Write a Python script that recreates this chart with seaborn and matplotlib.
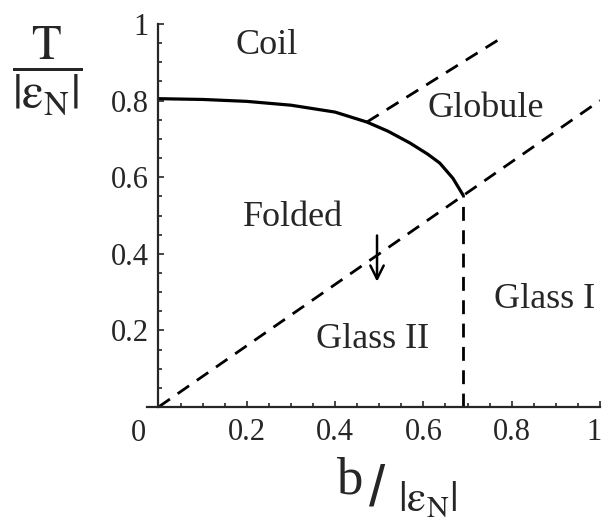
import matplotlib
matplotlib.use('Agg')
import matplotlib.pyplot as plt
import matplotlib.transforms as mtransforms
import seaborn as sns
from matplotlib.ticker import MultipleLocator

# phase boundaries (b/|eps_N|, T/|eps_N|)
solid_b = [0.0, 0.1, 0.2, 0.3, 0.4, 0.472, 0.52, 0.57, 0.61, 0.637, 0.667, 0.69]
solid_T = [0.805, 0.803, 0.798, 0.788, 0.770, 0.744, 0.72, 0.689, 0.66, 0.637, 0.597, 0.553]

glass_b = [0.0, 1.0]
glass_T = [0.0, 0.8]

glob_b = [0.472, 0.769]
glob_T = [0.744, 0.958]

vert_b = [0.69, 0.69]
vert_T = [0.0, 0.553]

arrow_b = 0.495
arrow_T = [0.455, 0.32]

regions = ['Coil', 'Globule', 'Folded', 'Glass II', 'Glass I']
region_b = [0.246, 0.742, 0.305, 0.484, 0.875]
region_T = [0.945, 0.78, 0.496, 0.175, 0.28]

ticks = [0.2, 0.4, 0.6, 0.8, 1.0]
tick_labels = ['0.2', '0.4', '0.6', '0.8', '1']

sns.set_style('ticks')
plt.rcParams['font.family'] = ['Liberation Serif', 'DejaVu Serif']
plt.rcParams['mathtext.fontset'] = 'stix'

fig = plt.figure(figsize=(6.05, 5.22), dpi=100)
ax = fig.add_axes([147 / 605, (522 - 407) / 522, 453 / 605, 383 / 522])

dash = (5.0, 3.4)
sns.lineplot(x=solid_b, y=solid_T, color='black', lw=2.3, estimator=None, sort=False, ax=ax)
sns.lineplot(x=glass_b, y=glass_T, color='black', lw=2.0, estimator=None, sort=False, ax=ax)
sns.lineplot(x=glob_b, y=glob_T, color='black', lw=2.0, estimator=None, sort=False, ax=ax)
sns.lineplot(x=vert_b, y=vert_T, color='black', lw=2.0, estimator=None, sort=False, ax=ax)
for ln in ax.lines[1:]:
  ln.set_dashes(dash)

ax.annotate('', xy=(arrow_b, arrow_T[1]), xytext=(arrow_b, arrow_T[0]),
            arrowprops=dict(arrowstyle='->', color='black', lw=1.8, mutation_scale=24))

for name, b, t in zip(regions, region_b, region_T):
  ax.text(b, t, name, fontsize=26, ha='center', va='center')

ax.set_xlim(-0.026, 1.0)
ax.set_ylim(0, 1.0)
ax.spines['left'].set_position(('data', 0))
ax.spines['right'].set_visible(False)
ax.spines['top'].set_visible(False)
for s in ['left', 'bottom']:
  ax.spines[s].set_linewidth(1.6)

ax.set_xticks(ticks)
ax.set_xticklabels(tick_labels)
ax.set_yticks(ticks)
ax.set_yticklabels(tick_labels)
ax.xaxis.set_minor_locator(MultipleLocator(0.05))
ax.yaxis.set_minor_locator(MultipleLocator(0.05))
ax.tick_params(which='both', direction='in', width=1.2, labelsize=22)
ax.tick_params(which='major', length=4)
ax.tick_params(which='minor', length=3)
ax.tick_params(axis='x', pad=8)
ax.tick_params(axis='y', pad=7)
# nudge the last x label so it stays inside the canvas
last = ax.get_xticklabels()[-1]
last.set_transform(last.get_transform() + mtransforms.ScaledTranslation(-4 / 72, 0, fig.dpi_scale_trans))
ax.text(-0.045, -0.068, '0', fontsize=22, ha='center', va='center', transform=ax.transData, clip_on=False)

# axis labels in the Mathematica style
fig.text(47 / 605, 1 - 71 / 522, r'$\dfrac{\mathrm{T}}{|\mathrm{\varepsilon_N}|}$',
         fontsize=35, ha='center', va='center')
fig.text(349 / 605, 1 - 480 / 522, 'b', fontsize=38, ha='center', va='center')
fig.text(377 / 605, 1 - 490 / 522, '/', fontsize=42, ha='center', va='center', family='Liberation Sans')
fig.text(428 / 605, 1 - 500 / 522, r'$|\mathrm{\varepsilon_N}|$', fontsize=31, ha='center', va='center')

plt.savefig('out.png', dpi=100)
